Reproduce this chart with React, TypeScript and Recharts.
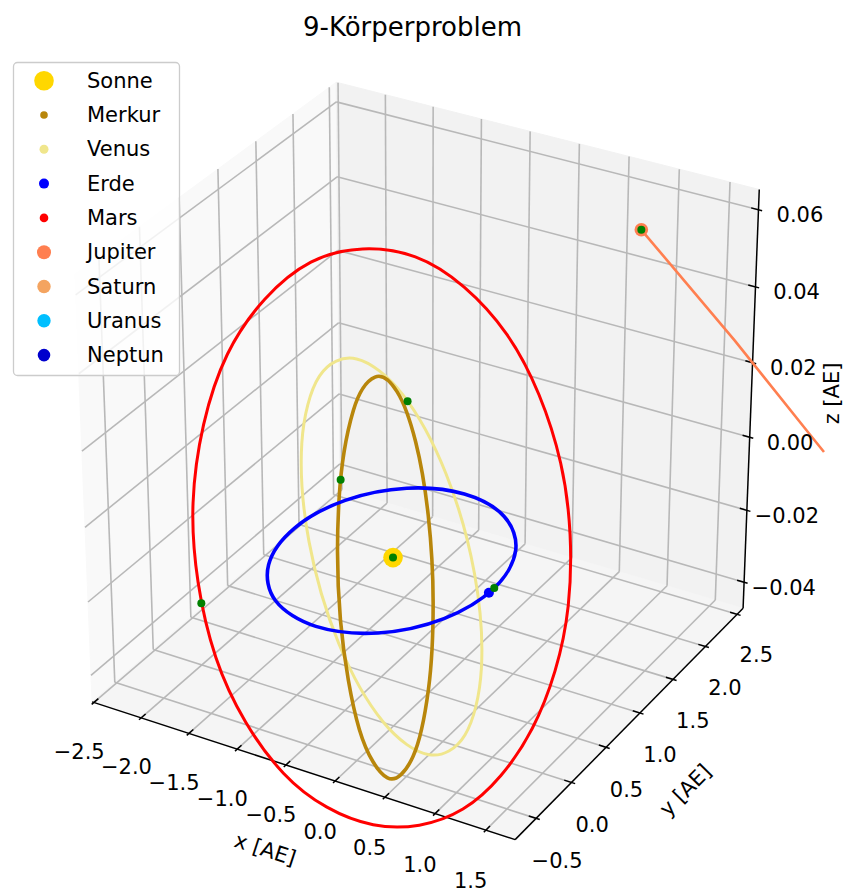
import React from 'react';
import {
  ComposedChart,
  XAxis,
  YAxis,
  Line,
  Scatter,
  ReferenceLine,
  ReferenceArea,
  ReferenceDot,
} from 'recharts';

const W = 846;
const H = 894;
const FONT = "'DejaVu Sans', 'Liberation Sans', sans-serif";

// ---------- texts ----------
const TITLE = '9-Körperproblem';
const X_TITLE = 'x [AE]';
const Y_TITLE = 'y [AE]';
const Z_TITLE = 'z [AE]';

// ---------- axes (limits in AE) ----------
const X_LIMITS = [-2.52, 1.786];
const Y_LIMITS = [-0.791, 2.596];
const Z_LIMITS = [-0.0473, 0.0652];
const X_TICKS = [-2.5, -2.0, -1.5, -1.0, -0.5, 0.0, 0.5, 1.0, 1.5];
const Y_TICKS = [-0.5, 0.0, 0.5, 1.0, 1.5, 2.0, 2.5];
const Z_TICKS = [-0.04, -0.02, 0.0, 0.02, 0.04, 0.06];
const X_TICK_LABELS = ['−2.5', '−2.0', '−1.5', '−1.0', '−0.5', '0.0', '0.5', '1.0', '1.5'];
const Y_TICK_LABELS = ['−0.5', '0.0', '0.5', '1.0', '1.5', '2.0', '2.5'];
const Z_TICK_LABELS = ['−0.04', '−0.02', '0.00', '0.02', '0.04', '0.06'];

// ---------- bodies ----------
const BODY_NAMES = ['Sonne', 'Merkur', 'Venus', 'Erde', 'Mars', 'Jupiter', 'Saturn', 'Uranus', 'Neptun'];
const BODY_COLORS = ['#FFD700', '#B8860B', '#F0E68C', '#0000FF', '#FF0000', '#FF7F50', '#F4A460', '#00BFFF', '#0000CD'];

// sun position (AE)
const SUN_POS = [0.0, 0.0, -0.0019];

// orbit samples relative to the sun (x, y, z in AE)
const MERKUR_ORBIT = [
  [0.3549, 0.0, -0.03233],
  [0.28189, 0.16275, -0.01249],
  [0.15498, 0.26842, 0.00765],
  [0.0, 0.30877, 0.02504],
  [-0.16099, 0.27884, 0.03728],
  [-0.30241, 0.1746, 0.04171],
  [-0.38806, 0.0, 0.03535],
  [-0.37294, -0.21532, 0.01652],
  [-0.2306, -0.39941, -0.01138],
  [0.0, -0.46383, -0.03761],
  [0.21846, -0.37837, -0.05059],
  [0.34218, -0.19756, -0.0472],
];
const VENUS_ORBIT = [
  [0.7233, 0.0, -0.04168],
  [0.6264, 0.36165, -0.03116],
  [0.36165, 0.6264, -0.0123],
  [0.0, 0.7233, 0.00987],
  [-0.36165, 0.6264, 0.02939],
  [-0.6264, 0.36165, 0.04103],
  [-0.7233, 0.0, 0.04168],
  [-0.6264, -0.36165, 0.03116],
  [-0.36165, -0.6264, 0.0123],
  [0.0, -0.7233, -0.00987],
  [0.36165, -0.6264, -0.02939],
  [0.6264, -0.36165, -0.04103],
];
const ERDE_ORBIT = [
  [1.00374, 0.0, 0.0],
  [0.86178, 0.49755, 0.0],
  [0.49389, 0.85544, 0.0],
  [0.0, 0.98372, 0.0],
  [-0.49202, 0.85219, 0.0],
  [-0.85617, 0.49431, 0.0],
  [-0.99626, 0.0, 0.0],
  [-0.87027, -0.50245, 0.0],
  [-0.50611, -0.87661, 0.0],
  [0.0, -1.01628, 0.0],
  [0.50799, -0.87986, 0.0],
  [0.87588, -0.50569, 0.0],
];
const MARS_ORBIT = [
  [1.39163, 0.0, -0.0342],
  [1.23995, 0.71589, -0.01548],
  [0.74786, 1.29532, 0.00875],
  [0.0, 1.56995, 0.03287],
  [-0.81691, 1.41493, 0.0497],
  [-1.44199, 0.83254, 0.05286],
  [-1.65136, 0.0, 0.04058],
  [-1.38408, -0.7991, 0.01727],
  [-0.7627, -1.32104, -0.00892],
  [0.0, -1.45522, -0.03047],
  [0.70217, -1.21619, -0.04272],
  [1.20572, -0.69612, -0.0442],
];
const JUPITER_TRACK = [
  [-0.99, 5.1, 0.0005],
  [0.0, 5.2, -0.0261],
  [0.886, 5.12, -0.0454],
  [1.08, 5.08, -0.0488],
];

// current positions (relative to the sun)
const MERKUR_NOW = [-0.38409, -0.1791, 0.02047];
const VENUS_NOW = [-0.32838, 0.64446, 0.02772];
const ERDE_NOW = [1.00374, 0.0, 0.0];
const MARS_NOW = [-1.0187, -1.1718, 0.0005];
const JUPITER_NOW = [-0.99, 5.1, 0.0005];
const ERDE_END = [1.0012, -0.07, 0.0];

// ---------- 3D view (matplotlib style) ----------
const DEG = Math.PI / 180;
const VIEW = { elev: 30, azim: -60, dist: 10 };
const PIX = { scale: 4884, cx: 422.6, cy: 448 };

const ce = Math.cos(VIEW.elev * DEG);
const VW = [ce * Math.cos(VIEW.azim * DEG), ce * Math.sin(VIEW.azim * DEG), Math.sin(VIEW.elev * DEG)];
const UN = Math.hypot(VW[0], VW[1]);
const VU = [-VW[1] / UN, VW[0] / UN, 0];
const VV = [
  VW[1] * VU[2] - VW[2] * VU[1],
  VW[2] * VU[0] - VW[0] * VU[2],
  VW[0] * VU[1] - VW[1] * VU[0],
];

const XR = X_LIMITS[1] - X_LIMITS[0];
const YR = Y_LIMITS[1] - Y_LIMITS[0];
const ZR = Z_LIMITS[1] - Z_LIMITS[0];

function project(p: number[]) {
  const q = [
    (p[0] - X_LIMITS[0]) / XR - 0.5,
    (p[1] - Y_LIMITS[0]) / YR - 0.5,
    (p[2] - Z_LIMITS[0]) / ZR - 0.5,
  ];
  const dot = (m: number[]) => m[0] * q[0] + m[1] * q[1] + m[2] * q[2];
  const den = VIEW.dist - dot(VW);
  return { px: dot(VU) / den, py: dot(VV) / den };
}
const fromSun = (p: number[]) => [SUN_POS[0] + p[0], SUN_POS[1] + p[1], SUN_POS[2] + p[2]];

// closed Catmull-Rom curve for the orbits
class ClosedSpline {
  _ctx: any;
  _pts: number[][];
  constructor(ctx: any) {
    this._ctx = ctx;
    this._pts = [];
  }
  areaStart() {}
  areaEnd() {}
  lineStart() {
    this._pts = [];
  }
  point(x: number, y: number) {
    this._pts.push([x, y]);
  }
  lineEnd() {
    const p = this._pts;
    const n = p.length;
    const c = this._ctx;
    if (!n) return;
    c.moveTo(p[0][0], p[0][1]);
    for (let i = 0; i < n; i++) {
      const p0 = p[(i - 1 + n) % n];
      const p1 = p[i];
      const p2 = p[(i + 1) % n];
      const p3 = p[(i + 2) % n];
      c.bezierCurveTo(
        p1[0] + (p2[0] - p0[0]) / 6,
        p1[1] + (p2[1] - p0[1]) / 6,
        p2[0] - (p3[0] - p1[0]) / 6,
        p2[1] - (p3[1] - p1[1]) / 6,
        p2[0],
        p2[1]
      );
    }
    c.closePath();
  }
}
const closedSpline: any = (ctx: any) => new ClosedSpline(ctx);

const X0 = X_LIMITS[0], X1 = X_LIMITS[1];
const Y0 = Y_LIMITS[0], Y1 = Y_LIMITS[1];
const Z0 = Z_LIMITS[0], Z1 = Z_LIMITS[1];

const GRID = { color: '#b8b8b8', width: 1.6 };
const AXIS = { color: '#000000', width: 1.5 };

function pane(key: string, corners: number[][], fill: string) {
  const pts = corners.map(project);
  const xs = pts.map((p) => p.px);
  const ys = pts.map((p) => p.py);
  const x1 = Math.min(...xs), x2 = Math.max(...xs);
  const y1 = Math.min(...ys), y2 = Math.max(...ys);
  const shape = (props: any) => {
    const { x, y, width, height } = props;
    const d = pts
      .map((p) => `${x + ((p.px - x1) / (x2 - x1)) * width},${y + ((y2 - p.py) / (y2 - y1)) * height}`)
      .join(' ');
    return <polygon points={d} fill={fill} stroke={fill} strokeWidth={1} />;
  };
  return (
    <ReferenceArea
      key={key}
      x1={x1}
      x2={x2}
      y1={y1}
      y2={y2}
      ifOverflow="visible"
      shape={shape}
      zIndex={-300}
    />
  );
}

function seg(key: string, a3: number[], b3: number[], stroke: string, width: number, z: number) {
  const a = project(a3);
  const b = project(b3);
  return (
    <ReferenceLine
      key={key}
      segment={[
        { x: a.px, y: a.py },
        { x: b.px, y: b.py },
      ]}
      stroke={stroke}
      strokeWidth={width}
      ifOverflow="visible"
      zIndex={z}
    />
  );
}

function text3d(key: string, p3: number[], label: string, size: number, rotate = 0) {
  const p = project(p3);
  const shape = (props: any) => (
    <text
      x={props.cx}
      y={props.cy}
      textAnchor="middle"
      dominantBaseline="central"
      fontSize={size}
      fontFamily={FONT}
      fill="#000"
      transform={rotate ? `rotate(${rotate} ${props.cx} ${props.cy})` : undefined}
    >
      {label}
    </text>
  );
  return <ReferenceDot key={key} x={p.px} y={p.py} r={0} ifOverflow="visible" shape={shape} zIndex={2000} />;
}

const dotShape = (r: number, fill: string) => (props: any) =>
  <circle cx={props.cx} cy={props.cy} r={r} fill={fill} />;

function axisAngle(a3: number[], b3: number[]) {
  const a = project(a3);
  const b = project(b3);
  return (Math.atan2(-(b.py - a.py), b.px - a.px) * 180) / Math.PI;
}

export default function App() {
  const xDom = [(0 - PIX.cx) / PIX.scale, (W - PIX.cx) / PIX.scale];
  const yDom = [(PIX.cy - H) / PIX.scale, PIX.cy / PIX.scale];

  const panes = [
    pane('pane-x', [[X0, Y0, Z0], [X0, Y1, Z0], [X0, Y1, Z1], [X0, Y0, Z1]], '#f9f9f9'),
    pane('pane-y', [[X0, Y1, Z0], [X1, Y1, Z0], [X1, Y1, Z1], [X0, Y1, Z1]], '#f2f2f2'),
    pane('pane-z', [[X0, Y0, Z0], [X1, Y0, Z0], [X1, Y1, Z0], [X0, Y1, Z0]], '#f5f5f5'),
  ];

  const grid: any[] = [];
  X_TICKS.forEach((t, i) => {
    grid.push(seg(`gx-f-${i}`, [t, Y0, Z0], [t, Y1, Z0], GRID.color, GRID.width, -200));
    grid.push(seg(`gx-b-${i}`, [t, Y1, Z0], [t, Y1, Z1], GRID.color, GRID.width, -200));
  });
  Y_TICKS.forEach((t, i) => {
    grid.push(seg(`gy-f-${i}`, [X0, t, Z0], [X1, t, Z0], GRID.color, GRID.width, -200));
    grid.push(seg(`gy-l-${i}`, [X0, t, Z0], [X0, t, Z1], GRID.color, GRID.width, -200));
  });
  Z_TICKS.forEach((t, i) => {
    grid.push(seg(`gz-l-${i}`, [X0, Y0, t], [X0, Y1, t], GRID.color, GRID.width, -200));
    grid.push(seg(`gz-b-${i}`, [X0, Y1, t], [X1, Y1, t], GRID.color, GRID.width, -200));
  });

  const dx = XR / 12, dy = YR / 12;
  const axes: any[] = [
    seg('ax-x', [X0, Y0, Z0], [X1, Y0, Z0], AXIS.color, AXIS.width, -100),
    seg('ax-y', [X1, Y0, Z0], [X1, Y1, Z0], AXIS.color, AXIS.width, -100),
    seg('ax-z', [X1, Y1, Z0], [X1, Y1, Z1], AXIS.color, AXIS.width, -100),
  ];
  X_TICKS.forEach((t, i) =>
    axes.push(seg(`tx-${i}`, [t, Y0 - 0.1 * dy, Z0], [t, Y0 + 0.2 * dy, Z0], AXIS.color, AXIS.width, -100))
  );
  Y_TICKS.forEach((t, i) =>
    axes.push(seg(`ty-${i}`, [X1 + 0.1 * dx, t, Z0], [X1 - 0.2 * dx, t, Z0], AXIS.color, AXIS.width, -100))
  );
  Z_TICKS.forEach((t, i) =>
    axes.push(seg(`tz-${i}`, [X1 + 0.1 * dx, Y1, t], [X1 - 0.2 * dx, Y1, t], AXIS.color, AXIS.width, -100))
  );

  const labels: any[] = [];
  X_TICKS.forEach((t, i) =>
    labels.push(text3d(`lx-${i}`, [t, Y0 - 0.0605 * YR, Z0 - 0.087 * ZR], X_TICK_LABELS[i], 21))
  );
  Y_TICKS.forEach((t, i) =>
    labels.push(text3d(`ly-${i}`, [X1 + 0.049 * XR, t, Z0 - 0.087 * ZR], Y_TICK_LABELS[i], 21))
  );
  Z_TICKS.forEach((t, i) =>
    labels.push(text3d(`lz-${i}`, [X1 + 0.0837 * XR, Y1 + 0.0204 * YR, t], Z_TICK_LABELS[i], 21))
  );
  labels.push(
    text3d('title-x', [-0.5, Y0 - 0.0847 * YR, Z0 - 0.1565 * ZR], X_TITLE, 21,
      axisAngle([X0, Y0, Z0], [X1, Y0, Z0]))
  );
  labels.push(
    text3d('title-y', [X1 + 0.1465 * XR, 0.75, Z0 - 0.0987 * ZR], Y_TITLE, 21,
      axisAngle([X1, Y0, Z0], [X1, Y1, Z0]))
  );
  labels.push(text3d('title-z', [X1 + 0.155 * XR, Y1 + 0.0617 * YR, 0.0133], Z_TITLE, 21, -90));

  const orbit = (pts: number[][]) => pts.map((p) => project(fromSun(p)));
  const merkur = orbit(MERKUR_ORBIT);
  const venus = orbit(VENUS_ORBIT);
  const erde = orbit(ERDE_ORBIT);
  const mars = orbit(MARS_ORBIT);
  const jupiter = orbit(JUPITER_TRACK);

  const greenDots = [SUN_POS, fromSun(MERKUR_NOW), fromSun(VENUS_NOW), fromSun(ERDE_NOW), fromSun(MARS_NOW), fromSun(JUPITER_NOW)].map(project);

  const legendR = [9.8, 3.8, 4.5, 5, 4.3, 7, 6.7, 6.7, 6.3];

  return (
    <div style={{ position: 'absolute', left: 0, top: 0, width: W, height: H, background: '#ffffff' }}>
      <ComposedChart width={W} height={H} margin={{ top: 0, right: 0, bottom: 0, left: 0 }}>
        <XAxis type="number" dataKey="px" domain={xDom} hide allowDataOverflow />
        <YAxis type="number" dataKey="py" domain={yDom} hide allowDataOverflow />
        {panes}
        {grid}
        {axes}
        <Line data={mars} dataKey="py" type={closedSpline} stroke={BODY_COLORS[4]} strokeWidth={3}
          dot={false} activeDot={false} isAnimationActive={false} />
        <Line data={venus} dataKey="py" type={closedSpline} stroke={BODY_COLORS[2]} strokeWidth={3}
          dot={false} activeDot={false} isAnimationActive={false} />
        <Line data={merkur} dataKey="py" type={closedSpline} stroke={BODY_COLORS[1]} strokeWidth={3.6}
          dot={false} activeDot={false} isAnimationActive={false} />
        <Line data={erde} dataKey="py" type={closedSpline} stroke={BODY_COLORS[3]} strokeWidth={3.6}
          dot={false} activeDot={false} isAnimationActive={false} />
        <Line data={jupiter} dataKey="py" type="linear" stroke={BODY_COLORS[5]} strokeWidth={2.6}
          dot={false} activeDot={false} isAnimationActive={false} />
        <Scatter data={[project(SUN_POS)]} dataKey="py" shape={dotShape(9.8, BODY_COLORS[0])} isAnimationActive={false} />
        <Scatter data={[project(fromSun(ERDE_END))]} dataKey="py" shape={dotShape(5, BODY_COLORS[3])} isAnimationActive={false} />
        <Scatter data={[project(fromSun(JUPITER_NOW))]} dataKey="py" shape={dotShape(6.8, BODY_COLORS[5])} isAnimationActive={false} />
        <Scatter data={greenDots} dataKey="py" shape={dotShape(4, '#008000')} isAnimationActive={false} />
        {labels}
      </ComposedChart>
      <svg width={W} height={H} style={{ position: 'absolute', left: 0, top: 0, pointerEvents: 'none' }}>
        <text x={412.5} y={27} textAnchor="middle" dominantBaseline="central" fontSize={26} fontFamily={FONT} fill="#000">
          {TITLE}
        </text>
        <rect x={13.5} y={62.5} width={166} height={313} rx={4} ry={4} fill="#ffffff" fillOpacity={0.8} stroke="#cccccc" strokeWidth={1.3} />
        {BODY_NAMES.map((name, i) => (
          <g key={name}>
            <circle cx={44} cy={80.7 + 34.3 * i} r={legendR[i]} fill={BODY_COLORS[i]} />
            <text x={87} y={80.7 + 34.3 * i} dominantBaseline="central" fontSize={21} fontFamily={FONT} fill="#000">
              {name}
            </text>
          </g>
        ))}
      </svg>
    </div>
  );
}
